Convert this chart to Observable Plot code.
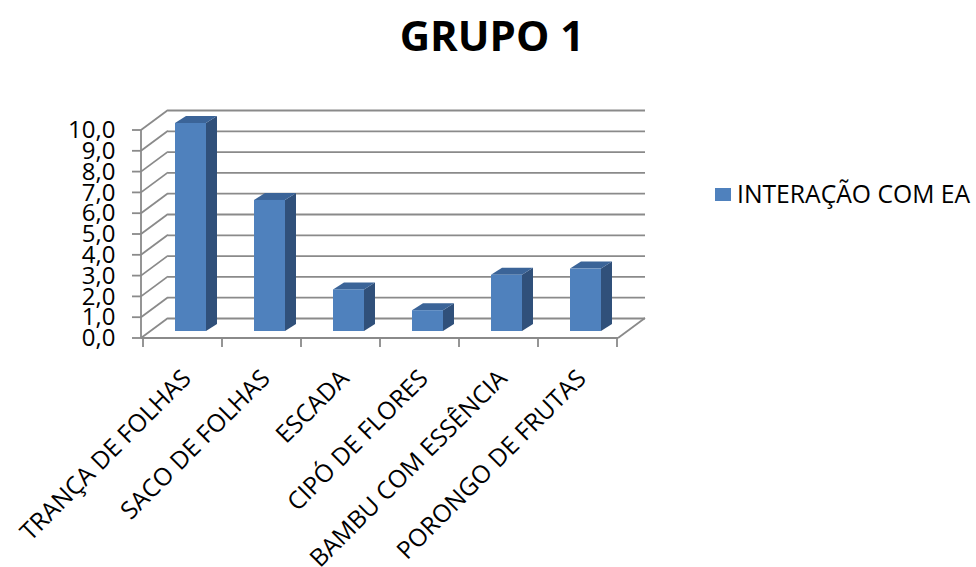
<!DOCTYPE html>
<html>
<head>
<meta charset="utf-8">
<script src="https://cdn.jsdelivr.net/npm/d3@7"></script>
<script src="https://cdn.jsdelivr.net/npm/@observablehq/plot@0.6"></script>
<style>
  html, body { margin: 0; padding: 0; background: #fff; }
  body { width: 976px; height: 567px; position: relative; overflow: hidden; font-family: "Open Sans", sans-serif; }
  #title { height: 56px; padding-top: 14px; text-align: center; font-weight: bold; font-size: 42px; line-height: 42px; color: #000; padding-left: 8px; }
  #legend { position: absolute; left: 715px; top: 182px; display: flex; align-items: center; font-size: 24.7px; line-height: 24px; color: #000; white-space: nowrap; }
  #legend .sw { width: 16px; height: 13px; background: #4F81BD; margin-right: 6px; margin-top: 1px; }
  svg { display: block; }
</style>
</head>
<body>
<div id="title"></div>
<div id="chart"></div>
<div id="legend"><span class="sw"></span><span class="lab"></span></div>
<script>
// ---- data ----
const chartTitle = "GRUPO 1";
const seriesName = "INTERAÇÃO COM EA";
const categories = ["TRANÇA DE FOLHAS", "SACO DE FOLHAS", "ESCADA", "CIPÓ DE FLORES", "BAMBU COM ESSÊNCIA", "PORONGO DE FRUTAS"];
const scores = [10.0, 6.3, 2.0, 1.0, 2.7, 3.0];
const yTicks = [0, 1, 2, 3, 4, 5, 6, 7, 8, 9, 10];
const yTickLabels = ["0,0", "1,0", "2,0", "3,0", "4,0", "5,0", "6,0", "7,0", "8,0", "9,0", "10,0"];

// ---- styles ----
const GRID = "#8a8a8a";
const FRONT = "#4F81BD";
const SIDE = "#30507a";
const TOP = "#3b6498";
const WALL = {dx: 27, dy: -20};      // depth of the 3D walls
const BAR_OFF = {dx: 8, dy: -7};     // bar plane offset from front plane
const BAR_DEPTH = {dx: 11, dy: -7};  // bar thickness
const BAR_INSET = 24;

document.getElementById("title").textContent = chartTitle;
document.querySelector("#legend .lab").textContent = seriesName;

const table = categories.map((c, i) => ({category: c, value: scores[i]}));

function walls(index, scales, vals, dims) {
  const {x, y} = scales;
  const x0 = dims.marginLeft, x1 = dims.width - dims.marginRight;
  const step = x(categories[1]) - x(categories[0]);
  const g = d3.create("svg:g").attr("fill", "none").attr("stroke", GRID).attr("stroke-width", 1.8);
  for (const t of yTicks) {
    g.append("line").attr("x1", x0).attr("y1", y(t)).attr("x2", x0 + WALL.dx).attr("y2", y(t) + WALL.dy);
    g.append("line").attr("x1", x0 - 9).attr("y1", y(t)).attr("x2", x0).attr("y2", y(t));
  }
  g.append("line").attr("x1", x1).attr("y1", y(0)).attr("x2", x1 + WALL.dx).attr("y2", y(0) + WALL.dy);
  g.append("line").attr("x1", x0).attr("y1", y(0)).attr("x2", x0).attr("y2", y(yTicks[yTicks.length - 1]));
  g.append("line").attr("x1", x0).attr("y1", y(0)).attr("x2", x1).attr("y2", y(0));
  const bounds = categories.map(c => x(c)).concat([x(categories[categories.length - 1]) + step]);
  for (const b of bounds) g.append("line").attr("x1", b).attr("y1", y(0)).attr("x2", b).attr("y2", y(0) + 9);
  return g.node();
}

function barFaces(index, scales) {
  const {x, y} = scales;
  const step = x(categories[1]) - x(categories[0]);
  const g = d3.create("svg:g");
  categories.forEach((c, i) => {
    const left = x(c) + BAR_INSET + BAR_OFF.dx;
    const right = x(c) + step - BAR_INSET + BAR_OFF.dx;
    const top = y(scores[i]) + BAR_OFF.dy;
    const bottom = y(0) + BAR_OFF.dy;
    const d = BAR_DEPTH;
    g.append("path").attr("fill", SIDE)
      .attr("d", `M${right},${bottom}L${right},${top}L${right + d.dx},${top + d.dy}L${right + d.dx},${bottom + d.dy}Z`);
    g.append("path").attr("fill", TOP)
      .attr("d", `M${left},${top}L${right},${top}L${right + d.dx},${top + d.dy}L${left + d.dx},${top + d.dy}Z`);
  });
  return g.node();
}

const chart = Plot.plot({
  width: 976,
  height: 497,
  marginLeft: 141,
  marginRight: 358,
  marginTop: 60,
  marginBottom: 229,
  x: {type: "band", domain: categories, padding: 0, axis: null},
  y: {domain: [0, 10], axis: null},
  style: {fontFamily: "Open Sans", fontSize: "24px", color: "#000", background: "#fff", overflow: "visible"},
  marks: [
    Plot.ruleY(yTicks, {dx: WALL.dx, dy: WALL.dy, stroke: GRID, strokeWidth: 1.8}),
    walls,
    barFaces,
    Plot.barY(table, {x: "category", y: "value", fill: FRONT, insetLeft: BAR_INSET, insetRight: BAR_INSET, dx: BAR_OFF.dx, dy: BAR_OFF.dy}),
    Plot.text(yTicks, {y: d => d, text: (d, i) => yTickLabels[i], frameAnchor: "left", textAnchor: "end", dx: -26, fill: "#000", fontSize: 24}),
    Plot.text(categories, {x: d => d, y: () => 0, text: d => d, rotate: -45, textAnchor: "end", lineAnchor: "middle", dx: 4, dy: 36, fill: "#000", fontSize: 24.5})
  ]
});
document.getElementById("chart").appendChild(chart);
</script>
</body>
</html>
